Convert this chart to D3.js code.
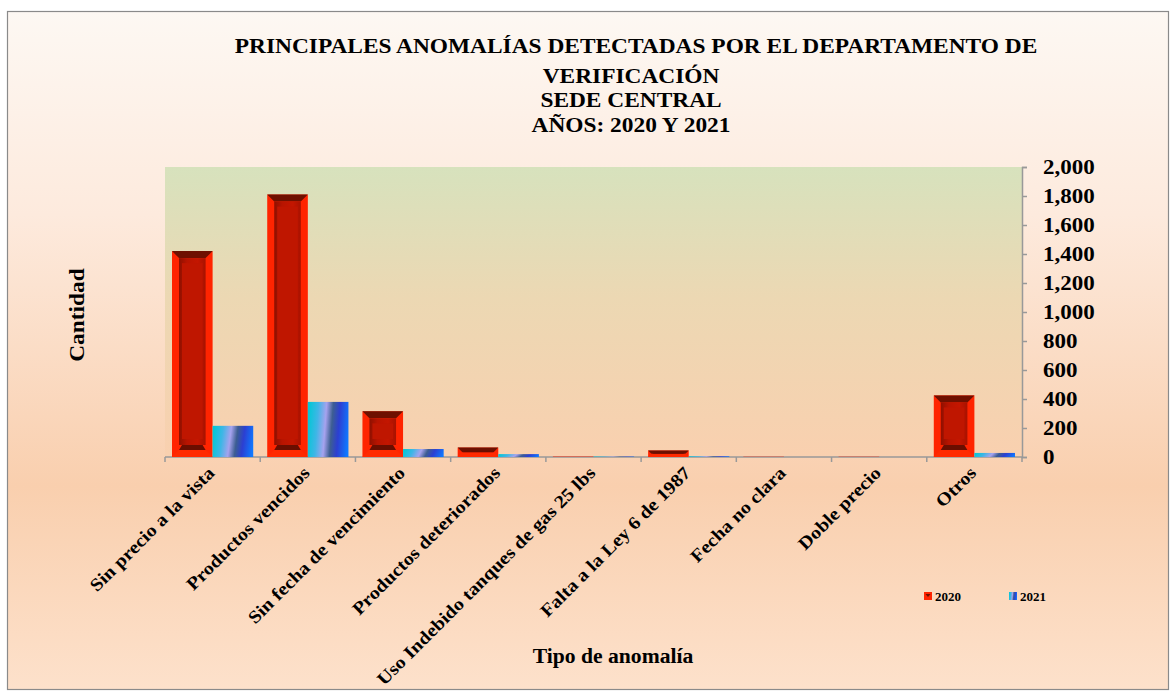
<!DOCTYPE html>
<html>
<head>
<meta charset="utf-8">
<script src="https://cdn.jsdelivr.net/npm/d3@7"></script>
<style>
  body { margin: 0; background: #fff; }
  text { font-family: "Liberation Serif", "DejaVu Serif", serif; font-weight: bold; fill: #000; }
</style>
</head>
<body>
<svg id="chart" width="1171" height="693"></svg>
<script>
// data
const categories = ["Sin precio a la vista", "Productos vencidos", "Sin fecha de vencimiento",
  "Productos deteriorados", "Uso Indebido tanques de gas 25 lbs", "Falta a la Ley 6 de 1987",
  "Fecha no clara", "Doble precio", "Otros"];
const years = ["2020", "2021"];
const values2020 = [1420, 1810, 315, 65, 3, 45, 2, 2, 425];
const values2021 = [215, 380, 55, 20, 3, 5, 0, 0, 28];
const yTicks = [0, 200, 400, 600, 800, 1000, 1200, 1400, 1600, 1800, 2000];
const titleLines = ["PRINCIPALES ANOMALÍAS DETECTADAS POR EL DEPARTAMENTO DE",
  "VERIFICACIÓN", "SEDE CENTRAL", "AÑOS: 2020 Y 2021"];

const drawChart = () => {
  let svg = d3.select("#chart");
  let defs = svg.append("defs");

  let margin = { top: 167, left: 165, right: 149, bottom: 236 };
  let width = 1171 - margin.left - margin.right;
  let height = 693 - margin.top - margin.bottom;

  // gradients
  let bg = defs.append("linearGradient").attr("id", "bgGrad")
    .attr("x1", 0).attr("y1", 0).attr("x2", 0).attr("y2", 1);
  bg.append("stop").attr("offset", "0%").attr("stop-color", "#fdf8f3");
  bg.append("stop").attr("offset", "30%").attr("stop-color", "#fdeadd");
  bg.append("stop").attr("offset", "70%").attr("stop-color", "#f9cfae");
  bg.append("stop").attr("offset", "100%").attr("stop-color", "#fde1cb");

  let pg = defs.append("linearGradient").attr("id", "plotGrad")
    .attr("x1", 0).attr("y1", 0).attr("x2", 0).attr("y2", 1);
  pg.append("stop").attr("offset", "0%").attr("stop-color", "#d7e2bd");
  pg.append("stop").attr("offset", "45%").attr("stop-color", "#ecd8b3");
  pg.append("stop").attr("offset", "100%").attr("stop-color", "#f9d0af");

  let inner = defs.append("linearGradient").attr("id", "innerGrad")
    .attr("x1", 0).attr("y1", 0).attr("x2", 1).attr("y2", 0);
  inner.append("stop").attr("offset", "0%").attr("stop-color", "#8e1000");
  inner.append("stop").attr("offset", "30%").attr("stop-color", "#b81400");
  inner.append("stop").attr("offset", "70%").attr("stop-color", "#c41600");
  inner.append("stop").attr("offset", "100%").attr("stop-color", "#a81200");

  let blue = defs.append("linearGradient").attr("id", "blueGrad")
    .attr("x1", 0).attr("y1", 0.45).attr("x2", 1).attr("y2", 0.55);
  blue.append("stop").attr("offset", "0%").attr("stop-color", "#06c6d6");
  blue.append("stop").attr("offset", "22%").attr("stop-color", "#3fb6e6");
  blue.append("stop").attr("offset", "42%").attr("stop-color", "#a6a2ee");
  blue.append("stop").attr("offset", "58%").attr("stop-color", "#3d5e92");
  blue.append("stop").attr("offset", "75%").attr("stop-color", "#2c3fd2");
  blue.append("stop").attr("offset", "100%").attr("stop-color", "#0f78ff");

  // outer background + border
  svg.append("rect").attr("x", 7.5).attr("y", 11.5).attr("width", 1161).attr("height", 678)
    .attr("fill", "url(#bgGrad)").attr("stroke", "#8a8a8a").attr("stroke-width", 1.2);

  // title (glyphs are a bit wider in the original, so stretch horizontally)
  svg.selectAll(".title").data(titleLines).enter().append("text").attr("class", "title")
    .attr("text-anchor", "middle").attr("font-size", "20px")
    .attr("transform", (d, i) => "translate(" + (i == 0 ? 636 : 631) + "," + [53, 83, 107, 132][i] + ") scale(1.17,1)")
    .text(d => d);

  let g = svg.append("g").attr("transform", "translate(" + margin.left + "," + margin.top + ")");

  g.append("rect").attr("width", width).attr("height", height).attr("fill", "url(#plotGrad)");

  let x0 = d3.scaleBand().domain(categories).range([0, width]).paddingInner(0).paddingOuter(0);
  let x1 = d3.scaleBand().domain(years).range([7, x0.bandwidth() - 7]);
  let yScale = d3.scaleLinear().domain([0, 2000]).range([height, 0]);

  // axes
  let yAxis = d3.axisRight(yScale).tickValues(yTicks).tickSize(5).tickFormat(d3.format(","));
  let ya = g.append("g").attr("transform", "translate(" + width + ",0)").call(yAxis);
  ya.select(".domain").attr("stroke", "#999").attr("stroke-width", 1.5);
  ya.selectAll(".tick line").attr("stroke", "#999").attr("stroke-width", 1.5);
  ya.selectAll(".tick text").attr("x", null).attr("dy", null)
    .attr("transform", "translate(21,6.5) scale(1.15,1)").attr("font-size", "20px")
    .attr("font-family", "Liberation Serif").attr("font-weight", "bold").attr("fill", "#000");

  let bounds = categories.map(c => x0(c)).concat([width]);
  let xa = g.append("g").attr("transform", "translate(0," + height + ")");
  xa.append("line").attr("x1", 0).attr("x2", width).attr("stroke", "#999").attr("stroke-width", 1.5);
  xa.selectAll("line.tk").data(bounds).enter().append("line").attr("class", "tk")
    .attr("x1", d => d).attr("x2", d => d).attr("y1", 0).attr("y2", 5)
    .attr("stroke", "#999").attr("stroke-width", 1.5);

  // 2020 bevelled bars
  const bevel = (sel, x, y, w, h) => {
    let b = Math.min(7, h / 2, w / 2);
    sel.append("rect").attr("x", x).attr("y", y).attr("width", w).attr("height", h).attr("fill", "#ff2400");
    if (h < 2) { return; }
    sel.append("polygon").attr("points", [[x, y], [x + w, y], [x + w - b, y + b], [x + b, y + b]].join(" "))
      .attr("fill", "#6e1000");
    sel.append("polygon").attr("points", [[x, y + h], [x + w, y + h], [x + w - b, y + h - b], [x + b, y + h - b]].join(" "))
      .attr("fill", "#ff2a00");
    sel.append("polygon").attr("points", [[x + b, y + h - b], [x + w - b, y + h - b], [x + w - b - 3, y + h - b - Math.min(5, h / 6)], [x + b + 3, y + h - b - Math.min(5, h / 6)]].join(" "))
      .attr("fill", "#6a0e00");
    if (h > 2 * b + 6) {
      sel.append("rect").attr("x", x + b).attr("y", y + b).attr("width", w - 2 * b)
        .attr("height", h - 2 * b - Math.min(5, h / 6)).attr("fill", "url(#innerGrad)");
      sel.append("rect").attr("x", x + b + 3).attr("y", y + b + 5).attr("width", w - 2 * b - 6)
        .attr("height", Math.max(0, h - 2 * b - 16)).attr("fill", "#bf1600");
    }
  };

  let groups = g.selectAll(".cat").data(categories).enter().append("g")
    .attr("class", "cat").attr("transform", d => "translate(" + x0(d) + ",0)");

  groups.each(function(c, i) {
    let grp = d3.select(this);
    let v = values2020[i];
    let by = yScale(v);
    bevel(grp, x1("2020"), by, x1.bandwidth(), height - by);
    let v2 = values2021[i];
    if (v2 > 0) {
      grp.append("rect").attr("x", x1("2021")).attr("y", yScale(v2))
        .attr("width", x1.bandwidth()).attr("height", height - yScale(v2))
        .attr("fill", "url(#blueGrad)");
    }
  });

  // category labels
  g.selectAll(".xl").data(categories).enter().append("text").attr("class", "xl")
    .attr("text-anchor", "end").attr("font-size", "18px")
    .attr("transform", d => "translate(" + (x0(d) + x0.bandwidth() / 2 + 3) + "," + (height + 17) + ") rotate(-45) scale(1.12,1)")
    .text(d => d);

  // axis titles
  svg.append("text").attr("text-anchor", "middle").attr("font-size", "20px")
    .attr("transform", "translate(84,315) rotate(-90) scale(1.17,1)").text("Cantidad");
  svg.append("text").attr("text-anchor", "middle").attr("font-size", "21px")
    .attr("transform", "translate(613,663) scale(1.03,1)").text("Tipo de anomalía");

  // legend
  let legend = svg.append("g");
  let lx = [924, 1009];
  years.forEach((yr, i) => {
    let lg = legend.append("g").attr("transform", "translate(" + lx[i] + ",592)");
    if (i == 0) {
      lg.append("rect").attr("width", 8).attr("height", 8).attr("fill", "#ff2400");
      lg.append("polygon").attr("points", "1.5,2 6.5,2 4,5").attr("fill", "#6e1000");
    } else {
      lg.append("rect").attr("width", 8).attr("height", 8).attr("fill", "url(#blueGrad)");
    }
    lg.append("text").attr("x", 11).attr("y", 8.5).attr("font-size", "13px").text(yr);
  });
};

drawChart();
</script>
</body>
</html>
